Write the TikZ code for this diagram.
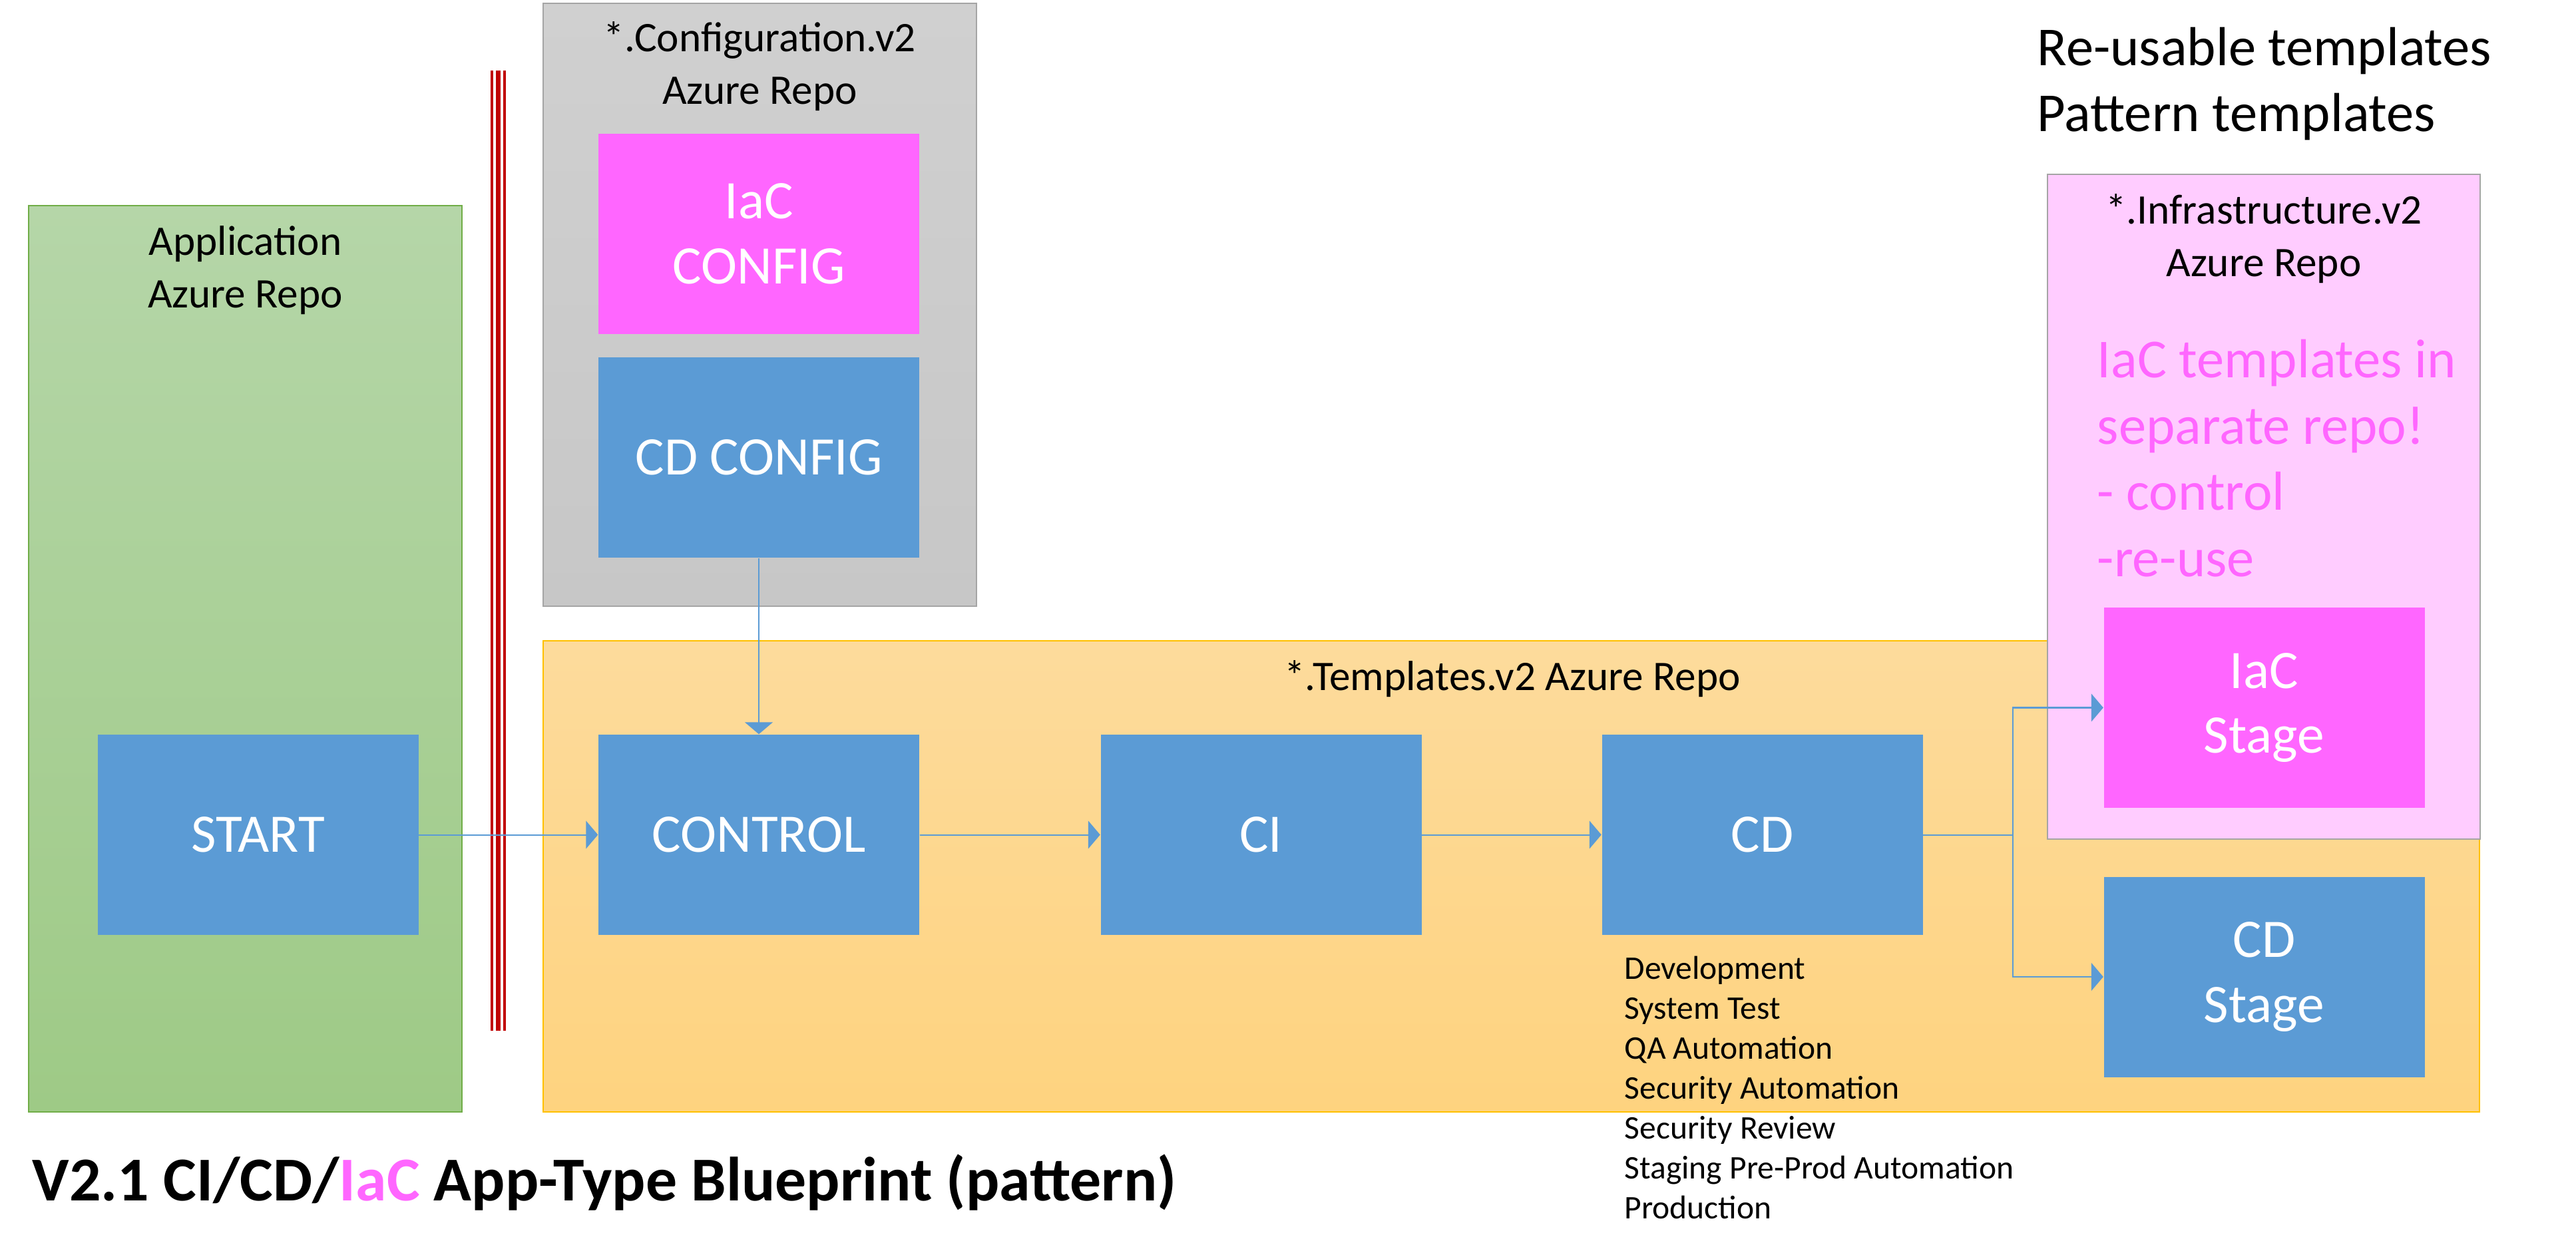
\documentclass[tikz,border=0pt]{standalone}
\usepackage{fontspec}
\setmainfont{Carlito}
\usetikzlibrary{arrows.meta}
\definecolor{boxblue}{HTML}{5B9BD5}
\definecolor{iacpink}{HTML}{FF66FF}
\definecolor{infrapink}{HTML}{FFCCFF}
\definecolor{repogray}{HTML}{A5A5A5}
\definecolor{appgreen}{HTML}{70AD47}
\definecolor{tmplorange}{HTML}{FFC000}
\definecolor{barred}{HTML}{C00000}

\begin{document}
\begin{tikzpicture}[x=1cm, y=-1cm,
	repo/.style={draw, line width=0.025cm, inner sep=0pt, minimum width=6.51cm},
	repolabel/.style={align=center, font=\fontsize{18}{22.5}\selectfont},
	bluebox/.style={fill=boxblue, text=white, inner sep=0pt, minimum width=4.82cm, minimum height=3.01cm, align=center, font=\fontsize{23.2}{27.8}\selectfont},
	iacbox/.style={bluebox, fill=iacpink},
	link/.style={draw=boxblue, line width=0.02cm, -{Triangle[length=0.18cm, width=0.42cm]}}]
							\useasboundingbox (0,0) rectangle (38.70,18.80);
							\node[repo, draw=appgreen, top color={rgb,255:red,181;green,214;blue,168}, bottom color={rgb,255:red,158;green,202;blue,134}, minimum height=13.62cm] (app) at (3.685,9.90) {};
							\node[repolabel] (applabel) at (3.685,4.06) {Application\\Azure Repo};
							\node[repo, draw=repogray, top color={rgb,255:red,208;green,208;blue,208}, bottom color={rgb,255:red,199;green,199;blue,199}, minimum height=9.06cm] (conf) at (11.415,4.58) {};
							\node[repolabel] (conflabel) at (11.415,1.0) {*.Configuration.v2\\Azure Repo};
							\node[repo, draw=tmplorange, top color={rgb,255:red,253;green,219;blue,156}, bottom color={rgb,255:red,254;green,211;blue,127}, minimum width=29.09cm, minimum height=7.08cm] (tmpl) at (22.705,13.17) {};
							\node[repolabel] (tmpllabel) at (22.72,10.20) {*.Templates.v2 Azure Repo};
							\node[repo, draw=repogray, fill=infrapink, minimum width=6.50cm, minimum height=9.99cm] (infra) at (34.01,7.615) {};
							\node[repolabel] (infralabel) at (34.01,3.585) {*.Infrastructure.v2\\Azure Repo};
							\node[anchor=west, align=left, inner sep=0pt, text=iacpink, font=\fontsize{23.5}{28.3}\selectfont] (infranote) at (31.50,6.885) {IaC templates in\\separate repo!\\- control\\-re-use};
							\node[anchor=west, align=left, inner sep=0pt, font=\fontsize{23.5}{28.3}\selectfont] (reuse) at (30.60,1.26) {Re-usable templates\\Pattern templates};
							\foreach \x/\w in {7.388/0.037, 7.485/0.07, 7.58/0.04}
								\draw[barred, line width=\w cm] (\x,1.06) -- (\x,15.49);
							\node[bluebox] (start) at (3.875,12.545) {START};
							\node[bluebox] (control) at (11.40,12.545) {CONTROL};
							\node[bluebox] (ci) at (18.945,12.545) {CI};
							\node[bluebox] (cd) at (26.475,12.545) {CD};
							\node[iacbox] (iacconf) at (11.40,3.515) {IaC\\CONFIG};
							\node[bluebox] (cdconf) at (11.40,6.875) {CD CONFIG};
							\node[iacbox] (iacstage) at (34.015,10.635) {IaC\\Stage};
							\node[bluebox] (cdstage) at (34.015,14.68) {CD\\Stage};
							\node[anchor=north west, align=left, inner sep=0pt, font=\fontsize{14.1}{17.1}\selectfont] (stages) at (24.40,14.36) {Development\\System Test\\QA Automation\\Security Automation\\Security Review\\Staging Pre-Prod Automation\\Production};
							\node[anchor=base west, inner sep=0pt, font=\fontsize{26.7}{30}\selectfont\bfseries] (title) at (0.48,18.04) {V2.1 CI/CD/\textcolor{iacpink}{IaC} App-Type Blueprint (pattern)};
							\coordinate (fork) at (30.24,12.545);
							\draw[link] (start) -- (control);
							\draw[link] (control) -- (ci);
							\draw[link] (ci) -- (cd);
							\draw[link] (cdconf) -- (control);
							\draw[link] (cd) -- (fork) |- (iacstage);
							\draw[link] (fork) |- (cdstage);
						\end{tikzpicture}
\end{document}
